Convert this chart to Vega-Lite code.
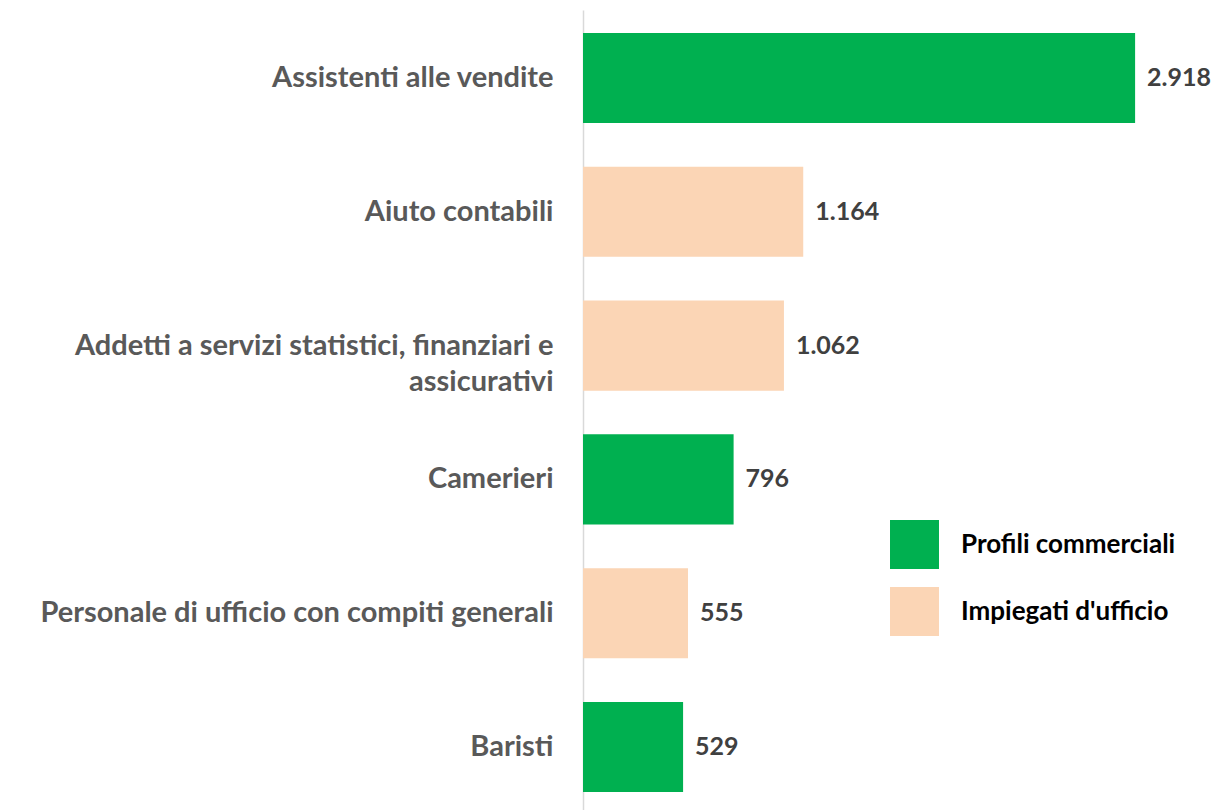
{
  "$schema": "https://vega.github.io/schema/vega-lite/v6.json",
  "width": 631,
  "height": 805,
  "autosize": {"type": "none"},
  "padding": {"left": 583, "top": 10, "right": 0, "bottom": 0},
  "background": "white",
  "config": {
    "view": {"stroke": null},
    "locale": {"number": {"decimal": ",", "thousands": ".", "grouping": [3], "currency": ["€", ""]}}
  },
  "data": {
    "values": [
      {"professione": "Assistenti alle vendite", "valore": 2918, "gruppo": "Profili commerciali"},
      {"professione": "Aiuto contabili", "valore": 1164, "gruppo": "Impiegati d'ufficio"},
      {"professione": "Addetti a servizi statistici, finanziari e|assicurativi", "valore": 1062, "gruppo": "Impiegati d'ufficio"},
      {"professione": "Camerieri", "valore": 796, "gruppo": "Profili commerciali"},
      {"professione": "Personale di ufficio con compiti generali", "valore": 555, "gruppo": "Impiegati d'ufficio"},
      {"professione": "Baristi", "valore": 529, "gruppo": "Profili commerciali"}
    ]
  },
  "encoding": {
    "y": {
      "field": "professione",
      "type": "nominal",
      "sort": null,
      "scale": {"paddingInner": 0.327, "paddingOuter": 0.172},
      "axis": {
        "title": null,
        "domain": true,
        "domainColor": "#D9D9D9",
        "domainWidth": 1.5,
        "ticks": false,
        "labelPadding": 30,
        "labelFont": "Lato",
        "labelFontWeight": "bold",
        "labelFontSize": 29,
        "labelColor": "#595959",
        "labelLimit": 600,
        "labelLineHeight": 36,
        "labelExpr": "split(datum.value, '|')"
      }
    },
    "x": {
      "field": "valore",
      "type": "quantitative",
      "scale": {"domain": [0, 3335]},
      "axis": null
    }
  },
  "layer": [
    {
      "mark": {"type": "bar"},
      "encoding": {
        "color": {
          "field": "gruppo",
          "type": "nominal",
          "scale": {"domain": ["Profili commerciali", "Impiegati d'ufficio"], "range": ["#00B050", "#FBD5B5"]},
          "legend": {
            "title": null,
            "orient": "none",
            "legendX": 307,
            "legendY": 510,
            "symbolType": "square",
            "symbolSize": 2400,
            "symbolStrokeWidth": 0,
            "symbolOpacity": 1,
            "rowPadding": 18,
            "labelOffset": 22,
            "labelFont": "Lato",
            "labelFontWeight": "bold",
            "labelFontSize": 26,
            "labelColor": "#000000",
            "labelLimit": 400
          }
        }
      }
    },
    {
      "mark": {"type": "text", "align": "left", "baseline": "middle", "dx": 12, "font": "Lato", "fontWeight": "bold", "fontSize": 25, "color": "#404040"},
      "encoding": {
        "text": {"field": "valore", "type": "quantitative", "format": ",d"}
      }
    }
  ]
}
